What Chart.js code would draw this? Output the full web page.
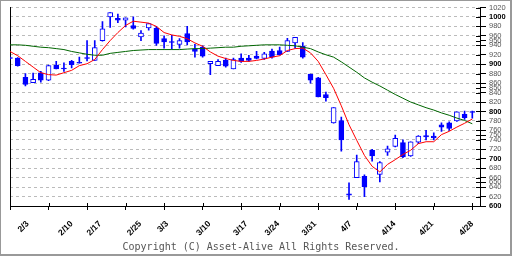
<!DOCTYPE html>
<html>
<head>
<meta charset="utf-8">
<script src="https://cdn.jsdelivr.net/npm/chart.js@4"></script>
<style>
  html, body { margin: 0; padding: 0; background: #fff; }
  #wrap { position: relative; width: 512px; height: 256px; }
  #chart { position: absolute; left: 0; top: 0; }
  #frame { position: absolute; left: 0; top: 0; right: 0; bottom: 0; box-sizing: border-box;
           border-style: solid; border-color: #999; border-width: 1px 2px 2px 1px; pointer-events: none; }
</style>
</head>
<body>
<div id="wrap">
  <canvas id="chart" width="512" height="256"></canvas>
  <div id="frame"></div>
</div>
<script>
// daily candles, one slot per trading day (2/3 .. 4/28)
const opens  = [914, 913, 872, 861, 882, 866, 898, 892, 906, 904, 914, 908, 950, 1000, 997, 993, 982, 958, 977, 976,
                954, 948, 942, 965, 932, 936, 901, 897, 909, 890, 913, 913, 917, 912, 928, 929, 927, 945, 938, 879,
                871, 836, 776, 781, 626, 660, 663, 718, 667, 714, 726, 734, 706, 735, 749, 748, 772, 776, 780, 794, 800];
const highs  = [915, 914, 880, 881, 885, 898, 906, 903, 908, 915, 950, 950, 990, 1009, 1006, 998, 1000, 971, 986, 980,
                960, 961, 954, 980, 942, 939, 906, 910, 913, 913, 922, 919, 927, 925, 932, 936, 955, 957, 946, 879,
                872, 841, 808, 788, 649, 708, 666, 720, 694, 727, 750, 740, 736, 749, 760, 755, 776, 778, 799, 801, 801];
const lows   = [911, 896, 854, 861, 862, 865, 890, 885, 892, 902, 907, 908, 949, 978, 988, 979, 974, 950, 972, 940,
                934, 932, 934, 941, 915, 915, 878, 897, 894, 890, 904, 906, 911, 910, 913, 919, 927, 934, 913, 860,
                831, 822, 775, 716, 614, 660, 620, 695, 651, 707, 725, 702, 705, 732, 740, 740, 758, 760, 779, 783, 786];
const closes = [912, 897, 857, 868, 866, 897, 890, 890, 899, 902, 912, 935, 975, 1009, 993, 998, 976, 966, 986, 944,
                947, 946, 950, 947, 927, 917, 906, 906, 896, 910, 906, 908, 912, 922, 915, 920, 950, 957, 915, 866,
                831, 829, 808, 740, 623, 694, 641, 706, 692, 721, 743, 704, 736, 748, 746, 744, 767, 764, 799, 787, 798];

// moving averages as drawn (red = short, green = long)
const maShort = [927, 918, 906, 894, 882, 878, 877, 882, 887, 897, 901, 910, 931, 950, 967, 982, 991, 989, 987, 980,
                 967, 962, 959, 954, 945, 938, 926, 917, 912, 908, 906, 906, 908, 911, 915, 918, 929, 933, 934, 924,
                 906, 878, 849, 812, 772, 739, 707, 684, 672, 688, 698, 709, 718, 732, 736, 736, 751, 758, 767, 775, 784];
const maLong  = [941, 941, 940, 938, 936, 935, 933, 931, 927, 924, 921, 919, 919, 923, 925, 927, 929, 930, 931, 931,
                 931, 931, 931, 932, 933, 933, 934, 935, 936, 936, 938, 939, 940, 941, 941, 941, 940, 939, 936, 933,
                 926, 920, 915, 905, 894, 883, 871, 862, 854, 845, 836, 828, 820, 814, 808, 803, 797, 792, 786, 781, 774];

// axes
const weekTicks = [0, 5, 10, 15, 20, 25, 30, 35, 40, 45, 50, 55, 60];
const xTickLabels = ['2/3', '2/10', '2/17', '2/25', '3/3', '3/10', '3/17', '3/24', '3/31', '4/7', '4/14', '4/21', '4/28'];
const xLabelAt = [2.3, 8.0, 11.7, 16.9, 20.4, 25.9, 30.7, 34.8, 39.6, 44.2, 49.9, 54.8, 60.0];
const yTickValues = [600, 620, 640, 650, 660, 680, 700, 720, 740, 750, 760, 780, 800, 820, 840, 850, 860, 880,
                     900, 920, 940, 950, 960, 980, 1000, 1020];
const copyright = 'Copyright (C) Asset-Alive All Rights Reserved.';

const BLUE = '#0000ff';

// small tick marks on the inner side of the axes
const innerTicks = {
  id: 'innerTicks',
  afterDraw(chart) {
    const { ctx, chartArea, scales } = chart;
    ctx.save();
    ctx.strokeStyle = '#000';
    ctx.lineWidth = 1;
    ctx.beginPath();
    scales.y.ticks.forEach(t => {
      const py = Math.round(scales.y.getPixelForValue(t.value)) + 0.5;
      ctx.moveTo(chartArea.right - 4, py);
      ctx.lineTo(chartArea.right, py);
    });
    scales.x.ticks.forEach(t => {
      const px = Math.round(scales.x.getPixelForValue(t.value)) + 0.5;
      ctx.moveTo(px, chartArea.bottom - 3);
      ctx.lineTo(px, chartArea.bottom);
    });
    ctx.stroke();
    ctx.restore();
  }
};

const pts = arr => arr.map((v, i) => ({ x: i, y: v }));
const isHundred = c => !!(c.tick && c.tick.value % 100 === 0);

new Chart(document.getElementById('chart'), {
  type: 'bar',
  data: {
    datasets: [
      {
        type: 'line',
        data: pts(maShort),
        borderColor: '#ff0000',
        borderWidth: 1,
        pointRadius: 0,
        tension: 0,
        order: 0
      },
      {
        type: 'line',
        data: pts(maLong),
        borderColor: '#006600',
        borderWidth: 1,
        pointRadius: 0,
        tension: 0,
        order: 1
      },
      {
        // candle bodies
        data: opens.map((o, i) => ({ x: i, y: [o, closes[i]] })),
        barThickness: 5,
        grouped: false,
        borderWidth: 1,
        borderSkipped: false,
        borderColor: BLUE,
        backgroundColor: ctx => closes[ctx.dataIndex] >= opens[ctx.dataIndex] ? '#ffffff' : BLUE,
        order: 2
      },
      {
        // wicks
        data: lows.map((l, i) => ({ x: i, y: [l, highs[i]] })),
        barThickness: 1,
        grouped: false,
        borderWidth: 0,
        backgroundColor: BLUE,
        order: 3
      }
    ]
  },
  options: {
    responsive: false,
    animation: false,
    events: [],
    layout: { padding: { top: 5, left: 10, right: 0, bottom: 0 } },
    plugins: {
      legend: { display: false },
      tooltip: { enabled: false },
      title: {
        display: true,
        position: 'bottom',
        text: copyright,
        color: '#555',
        font: { family: 'DejaVu Sans Mono', size: 10, weight: 'normal' },
        padding: { top: 0, bottom: 3 }
      }
    },
    scales: {
      x: {
        type: 'linear',
        position: 'bottom',
        min: 0,
        max: 61,
        offset: false,
        afterBuildTicks: s => { s.ticks = weekTicks.map(v => ({ value: v })); },
        afterFit: s => { s.height = 4; },
        ticks: { display: false },
        grid: { offset: false, drawOnChartArea: false, drawTicks: true, tickLength: 4, tickColor: '#000' },
        border: { display: true, color: '#000', width: 1 }
      },
      xl: {
        type: 'linear',
        position: 'bottom',
        weight: 1,
        min: 0,
        max: 61,
        offset: false,
        afterBuildTicks: s => { s.ticks = xLabelAt.map(v => ({ value: v })); },
        afterFit: s => { s.height = 31; },
        grid: { display: false, offset: false },
        border: { display: false },
        ticks: {
          autoSkip: false,
          minRotation: 45,
          maxRotation: 45,
          padding: 1,
          color: '#000',
          font: { family: 'Liberation Sans', size: 8.5, weight: 'bold' },
          callback: (v, i) => xTickLabels[i]
        }
      },
      y: {
        type: 'linear',
        position: 'right',
        min: 600,
        max: 1020,
        beginAtZero: false,
        afterBuildTicks: s => { s.ticks = yTickValues.map(v => ({ value: v })); },
        afterFit: s => { s.width = 32; },
        grid: {
          color: c => (c.tick && c.tick.value % 20 === 0) ? '#bbbbbb' : 'rgba(0,0,0,0)',
          drawTicks: true,
          tickLength: 6,
          tickColor: '#000'
        },
        border: { display: true, color: '#000', width: 1, dash: [3, 3] },
        ticks: {
          autoSkip: false,
          padding: 3,
          color: c => isHundred(c) ? '#000' : '#555',
          font: c => ({ family: 'Liberation Sans', size: 7.5, weight: isHundred(c) ? 'bold' : 'normal' }),
          callback: v => String(v)
        }
      },
      yl: {
        type: 'linear',
        position: 'left',
        afterFit: s => { s.width = 0; },
        ticks: { display: false },
        grid: { display: false },
        border: { display: true, color: '#000', width: 1 }
      }
    }
  },
  plugins: [innerTicks]
});
</script>
</body>
</html>
